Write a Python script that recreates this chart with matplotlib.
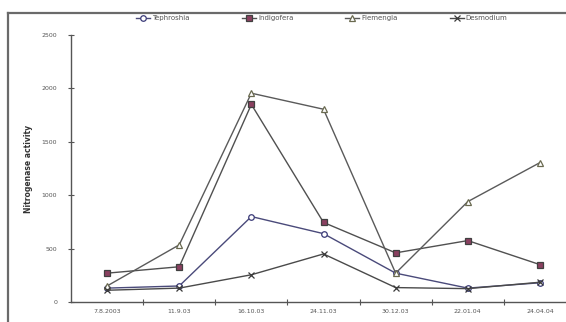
import matplotlib
matplotlib.use("Agg")
import matplotlib.pyplot as plt
from matplotlib.lines import Line2D

dates = ["7.8.2003", "11.9.03", "16.10.03", "24.11.03", "30.12.03", "22.01.04", "24.04.04"]
tephroshia = [130, 150, 800, 640, 270, 130, 180]
indigofera = [270, 330, 1850, 745, 460, 575, 350]
flemengia = [150, 535, 1955, 1805, 270, 940, 1305]
desmodium = [110, 130, 255, 450, 135, 125, 185]
yticks = [0, 500, 1000, 1500, 2000, 2500]

W, H = 566, 322
fig = plt.figure(figsize=(W / 100, H / 100), dpi=100)
fig.patch.set_facecolor("white")

# outer frame (cropped at right/bottom)
fx, fy = 8 / W, 1 - 13 / H
fig.add_artist(Line2D([fx, fx], [-0.05, fy], transform=fig.transFigure, color="#6a6a6a", linewidth=1.6))
fig.add_artist(Line2D([fx, 1.05], [fy, fy], transform=fig.transFigure, color="#6a6a6a", linewidth=1.6))

ax = fig.add_axes([71 / W, 1 - 302 / H, (576 - 71) / W, (302 - 35) / H])
x = list(range(len(dates)))

series = [
    ("Tephroshia", tephroshia, dict(marker="o", color="#4a4a7a", mfc="white", mec="#3a3a78")),
    ("Indigofera", indigofera, dict(marker="s", color="#505050", mfc="#8a4060", mec="#404040")),
    ("Flemengia", flemengia, dict(marker="^", color="#5a5a5a", mfc="white", mec="#6a6a50")),
    ("Desmodium", desmodium, dict(marker="x", color="#4a4a4a", mfc="#4a4a4a", mec="#3a3a3a")),
]
handles = []
for name, vals, st in series:
    h, = ax.plot(x, vals, linewidth=1.0, markersize=4, markeredgewidth=0.9, label=name, **st)
    handles.append(h)

ax.set_xlim(-0.5, len(dates) - 0.5)
ax.set_ylim(0, 2500)
ax.set_yticks(yticks)
ax.set_yticklabels([str(v) for v in yticks])
ax.set_xticks(x)
ax.set_xticklabels(dates)
ax.set_xticks([i + 0.5 for i in range(len(dates) - 1)], minor=True)
ax.tick_params(axis="x", which="major", length=0, labelsize=4.5, labelcolor="#555555", pad=5)
ax.tick_params(axis="x", which="minor", length=4, direction="inout", color="#555555", width=0.8)
ax.tick_params(axis="y", which="major", length=4, direction="inout", color="#555555", width=0.8,
               labelsize=4.5, labelcolor="#555555", pad=8)
for s in ["top", "right"]:
    ax.spines[s].set_visible(False)
for s in ["left", "bottom"]:
    ax.spines[s].set_color("#555555")
    ax.spines[s].set_linewidth(1.0)

ax.set_ylabel("Nitrogenase activity", fontsize=5.5, fontweight="bold", color="#333333", labelpad=6)

fig.legend(handles=handles, loc="center", bbox_to_anchor=(322 / W, 1 - 18 / H), ncol=4,
           frameon=False, fontsize=5, columnspacing=7.5, handlelength=2.0, handletextpad=0.3,
           labelcolor="#555555")

fig.savefig("out.png", dpi=100)
